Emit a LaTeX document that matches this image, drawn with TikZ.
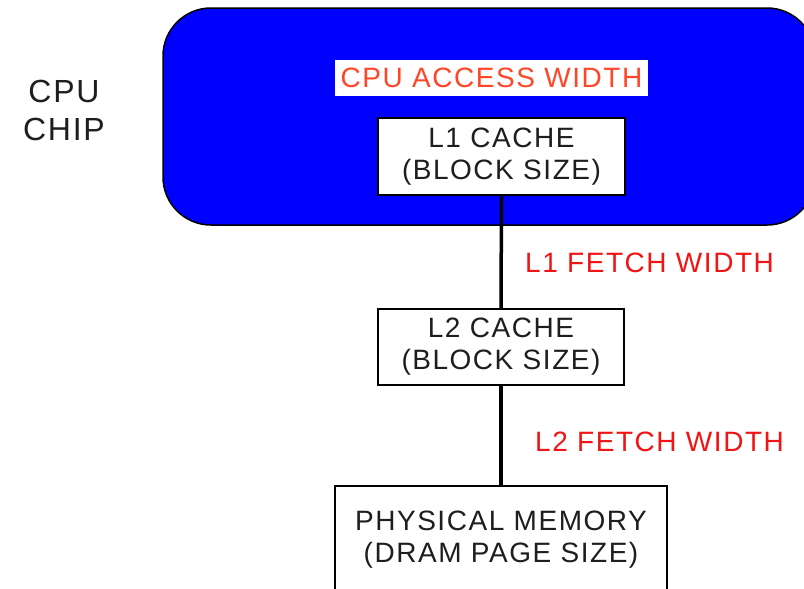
\documentclass[tikz,border=0pt]{standalone}
\usepackage{fontspec}
\setmainfont{Liberation Sans}[LetterSpace=5.5]
\definecolor{chipblue}{RGB}{0,0,255}
\definecolor{accessred}{RGB}{255,70,40}
\definecolor{fetchred}{RGB}{240,20,20}
\definecolor{inktext}{RGB}{30,30,30}
\begin{document}
\begin{tikzpicture}[x=1pt,y=-1pt,
  cachebox/.style={draw=black,line width=2pt,fill=white,minimum width=247pt,minimum height=77pt,inner sep=0pt,align=center,text=inktext,font=\fontsize{28}{32}\selectfont},
  fetchlabel/.style={text=fetchred,font=\fontsize{28}{32}\selectfont,anchor=west,inner sep=0pt},
  link/.style={line width=3.5pt,draw=black}]
\useasboundingbox (0,0) rectangle (804,589);
\clip (0,0) rectangle (804,589);
\fill[white] (0,0) rectangle (804,589);
\draw[fill=chipblue,draw=black,line width=1.5pt,rounded corners=48pt] (163,8) rectangle (815,225);
\node[fill=white,minimum width=313pt,minimum height=36pt,inner sep=0pt,text=accessred,font=\fontsize{28}{32}\selectfont] (access) at (491.5,78) {CPU ACCESS WIDTH};
\node[align=center,text=inktext,font=\fontsize{32}{38}\selectfont] (chip) at (64,110) {CPU\\CHIP};
\node[cachebox] (l1) at (501.5,156.5) {L1 CACHE\\(BLOCK SIZE)};
\node[cachebox,minimum width=246pt,minimum height=76pt] (l2) at (501,347) {L2 CACHE\\(BLOCK SIZE)};
\node[draw=black,line width=2pt,fill=white,minimum width=332pt,minimum height=150pt,inner sep=0pt] (mem) at (501,561) {};
\node[align=center,text=inktext,font=\fontsize{28}{32}\selectfont,inner sep=0pt] (memtext) at (501,540) {PHYSICAL MEMORY\\(DRAM PAGE SIZE)};
\draw[link] (l1.south) -- (l2.north);
\draw[link] (l2.south) -- (mem.north);
\node[fetchlabel] (f1) at (525,263) {L1 FETCH WIDTH};
\node[fetchlabel] (f2) at (535,442) {L2 FETCH WIDTH};
\end{tikzpicture}
\end{document}
